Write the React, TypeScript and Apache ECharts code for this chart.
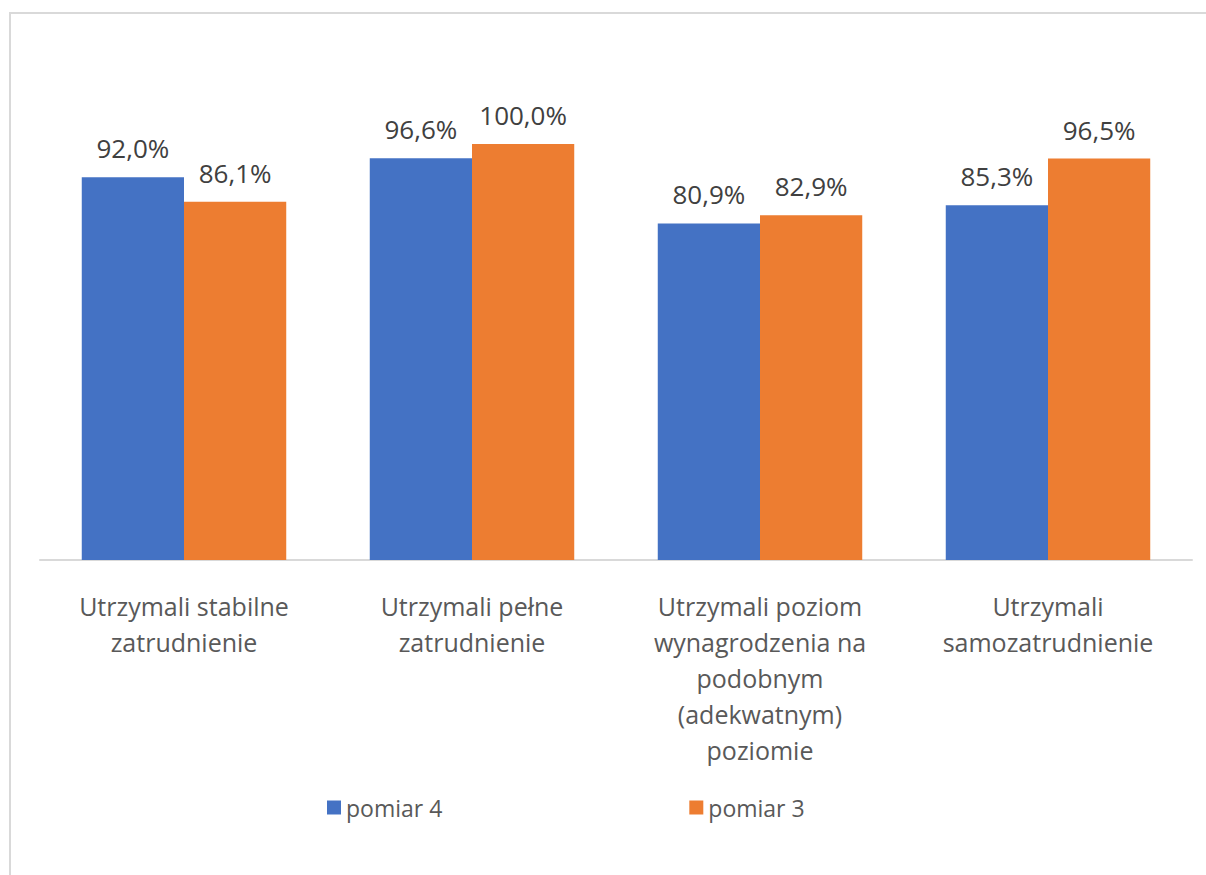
import React, { useEffect, useRef } from "react";
import * as echarts from "echarts";

const categories = [
  "Utrzymali stabilne\nzatrudnienie",
  "Utrzymali pełne\nzatrudnienie",
  "Utrzymali poziom\nwynagrodzenia na\npodobnym\n(adekwatnym)\npoziomie",
  "Utrzymali\nsamozatrudnienie",
];
const seriesNames = ["pomiar 4", "pomiar 3"];
const pomiar4 = [92.0, 96.6, 80.9, 85.3];
const pomiar3 = [86.1, 100.0, 82.9, 96.5];
const colors = ["#4472C4", "#ED7D31"];

const FONT = "'Open Sans', 'Noto Sans', sans-serif";

export default function App() {
  const ref = useRef<HTMLDivElement>(null);
  useEffect(() => {
    if (!ref.current) return;
    const chart = echarts.init(ref.current, undefined, { renderer: "svg" });
    const label = {
      show: true,
      position: "top",
      distance: 16,
      fontSize: 26,
      fontFamily: FONT,
      color: "#404040",
      formatter: (p: any) => p.value.toFixed(1).replace(".", ",") + "%",
    };
    chart.setOption({
      animation: false,
      backgroundColor: "#ffffff",
      textStyle: { fontFamily: FONT },
      graphic: [
        {
          type: "polyline",
          shape: { points: [[10, 875], [10, 13], [1206, 13]] },
          style: { stroke: "#D9D9D9", lineWidth: 2, fill: "none" },
          silent: true,
        },
      ],
      legend: {
        left: 327,
        top: 796,
        padding: 0,
        itemWidth: 14,
        itemHeight: 14,
        itemGap: 247,
        icon: "rect",
        textStyle: { fontSize: 23, color: "#595959", fontFamily: FONT },
        data: seriesNames,
      },
      grid: { left: 40, right: 14, top: 144, bottom: 315 },
      xAxis: {
        type: "category",
        data: categories,
        axisLine: { lineStyle: { color: "#D9D9D9", width: 2 } },
        axisTick: { show: false },
        axisLabel: {
          fontSize: 25,
          color: "#595959",
          fontFamily: FONT,
          lineHeight: 36,
          margin: 28,
          interval: 0,
        },
      },
      yAxis: {
        type: "value",
        min: 0,
        max: 100,
        show: false,
        splitLine: { show: false },
      },
      series: [
        {
          name: seriesNames[0],
          type: "bar",
          data: pomiar4,
          itemStyle: { color: colors[0] },
          barGap: "0%",
          barCategoryGap: "29%",
          label,
        },
        {
          name: seriesNames[1],
          type: "bar",
          data: pomiar3,
          itemStyle: { color: colors[1] },
          barGap: "0%",
          barCategoryGap: "29%",
          label,
        },
      ],
    });
    return () => chart.dispose();
  }, []);
  return (
    <div
      ref={ref}
      style={{ position: "fixed", left: 0, top: 0, width: 1206, height: 875 }}
    />
  );
}
